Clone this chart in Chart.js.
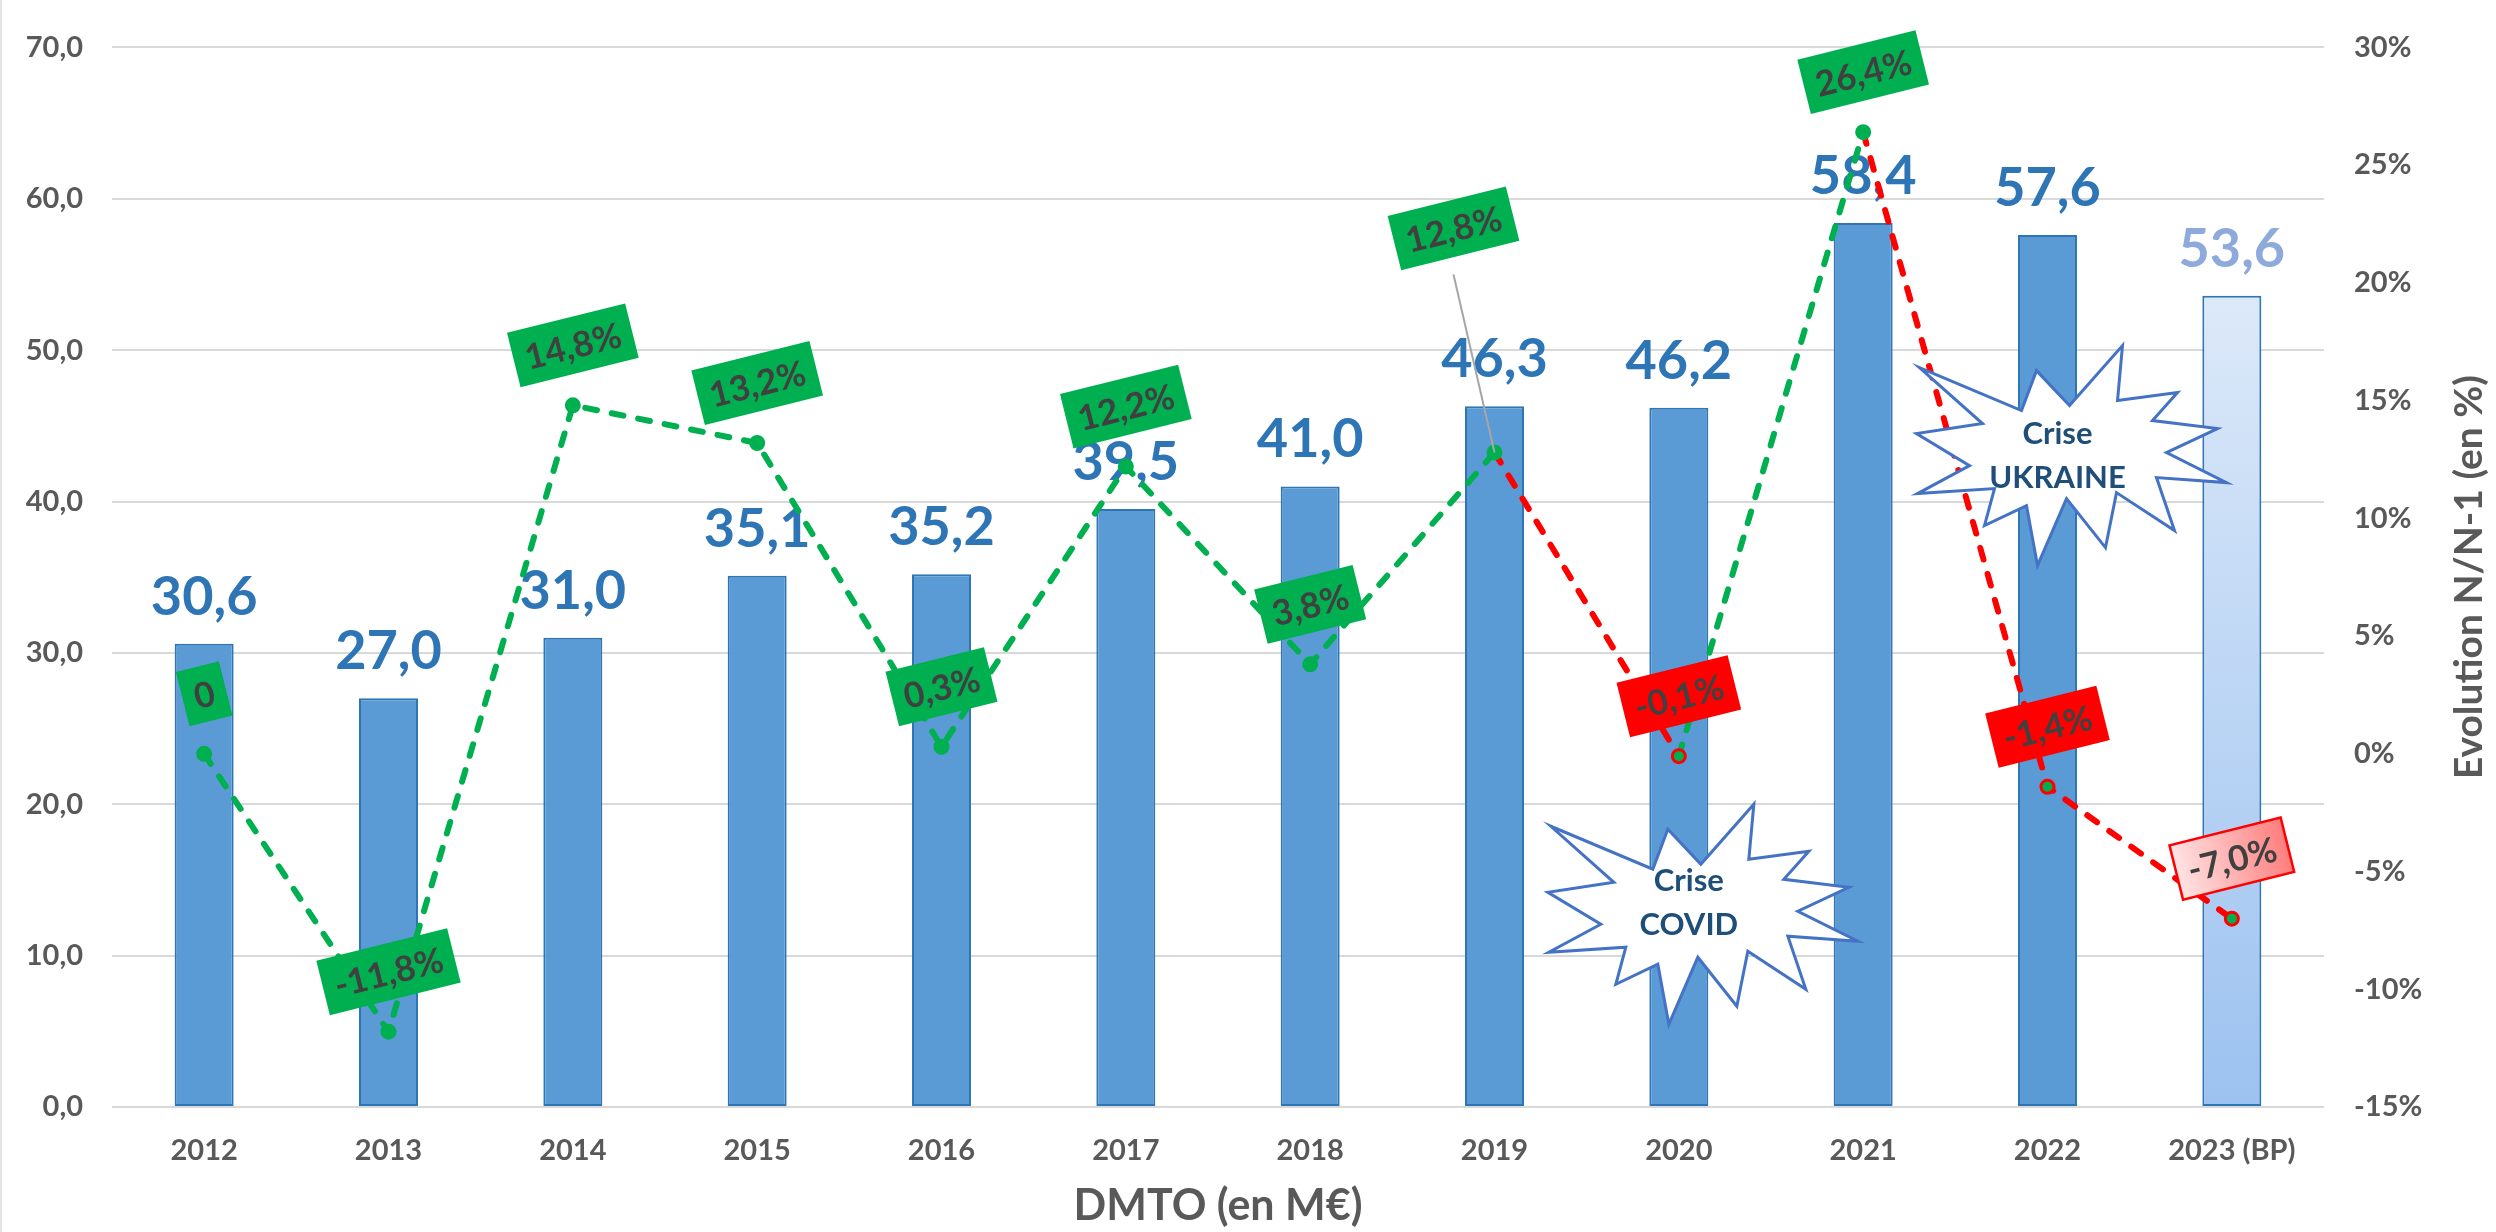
<!DOCTYPE html>
<html>
<head>
<meta charset="utf-8">
<script src="https://cdn.jsdelivr.net/npm/chart.js@4/dist/chart.umd.min.js"></script>
<style>
html,body{margin:0;padding:0;background:#fff;overflow:hidden}
#wrap{width:2496px;height:1232px;position:relative}
</style>
</head>
<body>
<div id="wrap"><canvas id="c" width="2496" height="1232"></canvas></div>
<script>
// ---------- DATA ----------
const categories = ['2012','2013','2014','2015','2016','2017','2018','2019','2020','2021','2022','2023 (BP)'];
const dmtoValues = [30.6, 27.0, 31.0, 35.1, 35.2, 39.5, 41.0, 46.3, 46.2, 58.4, 57.6, 53.6];
const evolutionPct = [0, -11.8, 14.8, 13.2, 0.3, 12.2, 3.8, 12.8, -0.1, 26.4, -1.4, -7.0];
const leftTickStep = 10;
const rightTickStep = 5;
const crisisPoints = [8, 10, 11];
const forecastIndex = 11;
const crisisNotes = [
  { index: 8, top: 20, lines: ['Crise', 'COVID'] },
  { index: 10, top: 50.3, lines: ['Crise', 'UKRAINE'] }
];
const xTitle = 'DMTO (en M€)';
const rightTitle = 'Evolution N/N-1 (en %)';

// ---------- STYLE ----------
const GREY = '#595959';
const GREEN = '#00B050';
const RED = '#FF0000';
const FONT = 'Lato';
const fmt1 = v => v.toFixed(1).replace('.', ',');
const pctText = (v, i) => (i === 0 && v === 0) ? '0' : fmt1(v) + '%';
const ANG = -14 * Math.PI / 180;
const labelShift = { 7: [-41, -224] };
const noteTextDy = { 8: -11, 10: 0 };
const burstShape = [[206,0],[201,55],[261,47],[236,75],[301,83],[250,107],[310,137],[240,132],[258,185],[200,147],[189,202],[150,153],[121,220],[110,160],[68,180],[78,143],[1,148],[53,120],[0,88],[66,78],[3,22],[105,65],[120,25],[153,60]];

const barLabels = {
  id: 'barLabels',
  afterDatasetDraw(chart, args) {
    if (args.index !== 0) return;
    const ctx = chart.ctx;
    ctx.save();
    ctx.font = 'bold 54px ' + FONT;
    ctx.textAlign = 'center';
    ctx.textBaseline = 'alphabetic';
    args.meta.data.forEach((bar, i) => {
      ctx.fillStyle = i === forecastIndex ? '#8EA9DB' : '#2E75B6';
      ctx.fillText(fmt1(dmtoValues[i]), bar.x, bar.y - 29);
    });
    ctx.restore();
  }
};

function drawBox(ctx, cx, cy, text, style) {
  ctx.save();
  ctx.translate(cx, cy);
  ctx.rotate(ANG);
  ctx.font = 'bold 35px ' + FONT;
  const w = ctx.measureText(text).width + 24, h = 56;
  if (style === 'forecast') {
    const g = ctx.createLinearGradient(-w / 2, 0, w / 2, 0);
    g.addColorStop(0, '#FFE4E4');
    g.addColorStop(1, '#FF7E7E');
    ctx.fillStyle = g;
  } else {
    ctx.fillStyle = style === 'red' ? RED : GREEN;
  }
  ctx.fillRect(-w / 2, -h / 2, w, h);
  if (style === 'forecast') {
    ctx.strokeStyle = RED; ctx.lineWidth = 2.5;
    ctx.strokeRect(-w / 2, -h / 2, w, h);
  }
  ctx.fillStyle = '#404040';
  ctx.textAlign = 'center';
  ctx.textBaseline = 'middle';
  ctx.fillText(text, 0, 2);
  ctx.restore();
}

const overlays = {
  id: 'overlays',
  afterDatasetsDraw(chart) {
    const ctx = chart.ctx;
    const meta = chart.getDatasetMeta(1);
    const xs = chart.scales.x, yl = chart.scales.y, area = chart.chartArea;
    // crisis bursts
    crisisNotes.forEach(n => {
      const cx = xs.getPixelForValue(n.index) + 24;
      const left = cx - 155, top = yl.getPixelForValue(n.top);
      ctx.save();
      ctx.beginPath();
      burstShape.forEach((p, k) => {
        const px = left + p[0], py = top + p[1];
        if (k === 0) ctx.moveTo(px, py); else ctx.lineTo(px, py);
      });
      ctx.closePath();
      ctx.fillStyle = '#FFFFFF';
      ctx.fill();
      ctx.strokeStyle = '#4472C4';
      ctx.lineWidth = 3;
      ctx.lineJoin = 'miter';
      ctx.stroke();
      ctx.fillStyle = '#1F4E79';
      ctx.font = 'bold 31px ' + FONT;
      ctx.textAlign = 'center';
      ctx.textBaseline = 'middle';
      const ty = top + 110 + (noteTextDy[n.index] || 0);
      ctx.fillText(n.lines[0], cx - 14, ty - 22);
      ctx.fillText(n.lines[1], cx - 14, ty + 22);
      ctx.restore();
    });
    // evolution label boxes
    meta.data.forEach((pt, i) => {
      const sh = labelShift[i] || [0, -60];
      const bx = pt.x + sh[0], by = pt.y + sh[1];
      if (labelShift[i]) {
        ctx.save();
        ctx.strokeStyle = '#A6A6A6';
        ctx.lineWidth = 2;
        ctx.beginPath();
        ctx.moveTo(bx, by + 46);
        ctx.lineTo(pt.x, pt.y);
        ctx.stroke();
        ctx.restore();
      }
      const style = i === forecastIndex ? 'forecast' : (crisisPoints.includes(i) ? 'red' : 'green');
      drawBox(ctx, bx, by, pctText(evolutionPct[i], i), style);
    });
    // right axis title (reads bottom to top)
    ctx.save();
    ctx.translate(chart.width - 27, (area.top + area.bottom) / 2);
    ctx.rotate(-Math.PI / 2);
    ctx.font = 'bold 39px ' + FONT;
    ctx.fillStyle = GREY;
    ctx.textAlign = 'center';
    ctx.textBaseline = 'middle';
    ctx.fillText(rightTitle, 0, 0);
    ctx.restore();
    // faint outer frame edge
    ctx.save();
    ctx.strokeStyle = '#E3E3E3';
    ctx.lineWidth = 2;
    ctx.beginPath(); ctx.moveTo(1, 0); ctx.lineTo(1, chart.height); ctx.stroke();
    ctx.restore();
  }
};

const tickFont = { family: FONT, size: 29, weight: 'bold' };

new Chart(document.getElementById('c'), {
  data: {
    labels: categories,
    datasets: [
      {
        type: 'bar',
        data: dmtoValues,
        yAxisID: 'y',
        order: 1,
        backgroundColor(c) {
          if (c.dataIndex !== forecastIndex) return '#5B9BD5';
          const { ctx, chartArea, scales } = c.chart;
          if (!chartArea || !scales.y) return '#BDD7F5';
          const top = scales.y.getPixelForValue(dmtoValues[forecastIndex]);
          const g = ctx.createLinearGradient(0, top, 0, chartArea.bottom);
          g.addColorStop(0, '#DCE9F9');
          g.addColorStop(1, '#9CC2F0');
          return g;
        },
        borderColor: '#2E75B6',
        borderWidth: 2,
        borderSkipped: false,
        barPercentage: 0.32,
        categoryPercentage: 1
      },
      {
        type: 'line',
        data: evolutionPct,
        yAxisID: 'y1',
        order: 0,
        borderColor: GREEN,
        borderWidth: 6,
        borderDash: [12, 15],
        borderCapStyle: 'round',
        tension: 0,
        fill: false,
        segment: {
          borderColor: c => crisisPoints.includes(c.p1DataIndex) ? RED : GREEN
        },
        pointRadius: 6.5,
        pointHoverRadius: 6.5,
        pointBackgroundColor: GREEN,
        pointBorderColor: categories.map((_, i) => crisisPoints.includes(i) ? RED : GREEN),
        pointBorderWidth: 3
      }
    ]
  },
  options: {
    responsive: false,
    animation: false,
    devicePixelRatio: 1,
    layout: { padding: { top: 47, left: 0, right: 0, bottom: 0 } },
    plugins: { legend: { display: false }, tooltip: { enabled: false }, title: { display: false } },
    scales: {
      x: {
        grid: { display: false, drawTicks: false },
        border: { display: false },
        ticks: { color: GREY, font: tickFont, padding: 26, maxRotation: 0, autoSkip: false },
        title: { display: true, text: xTitle, color: GREY, font: { family: FONT, size: 43, weight: 'bold' }, padding: { top: 0, bottom: 0 } },
        afterFit: s => { s.height = 125; }
      },
      y: {
        position: 'left',
        min: 0, max: 70,
        grid: { color: '#D9D9D9', lineWidth: 2, drawTicks: false },
        border: { display: false },
        ticks: { stepSize: leftTickStep, color: GREY, font: tickFont, padding: 29, callback: v => fmt1(v) },
        afterFit: s => { s.width = 112; }
      },
      y1: {
        position: 'right',
        min: -15, max: 30,
        grid: { display: false, drawTicks: false },
        border: { display: false },
        ticks: { stepSize: rightTickStep, color: GREY, font: tickFont, padding: 30, callback: v => v + '%' },
        afterFit: s => { s.width = 172; }
      }
    }
  },
  plugins: [barLabels, overlays]
});
</script>
</body>
</html>
